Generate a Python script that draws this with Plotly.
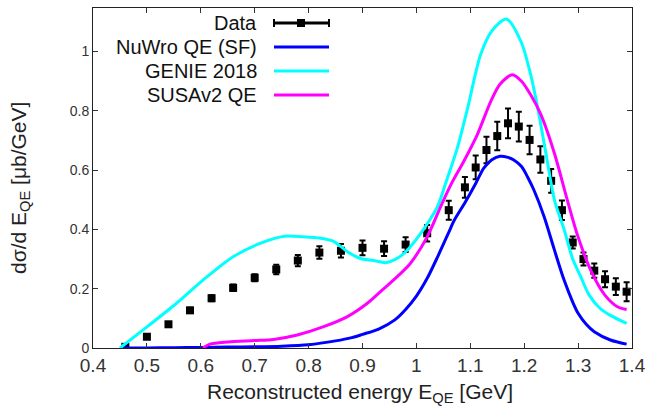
import plotly.graph_objects as go

# ---- Data ----
data_x = [0.46, 0.50, 0.54, 0.58, 0.62, 0.66, 0.70, 0.74, 0.78, 0.82, 0.86, 0.90, 0.94, 0.98,
          1.02, 1.06, 1.09, 1.11, 1.13, 1.15, 1.17, 1.19, 1.21, 1.23, 1.25, 1.27, 1.29, 1.31,
          1.33, 1.35, 1.37, 1.39]
data_y = [0.004, 0.038, 0.080, 0.127, 0.168, 0.203, 0.237, 0.265, 0.295, 0.322, 0.328, 0.338,
          0.335, 0.349, 0.387, 0.465, 0.542, 0.609, 0.668, 0.715, 0.758, 0.747, 0.702, 0.636,
          0.564, 0.465, 0.356, 0.300, 0.261, 0.232, 0.207, 0.190]
data_err = [0.006, 0.008, 0.008, 0.009, 0.010, 0.011, 0.012, 0.016, 0.019, 0.021, 0.023, 0.025,
            0.025, 0.025, 0.028, 0.032, 0.035, 0.040, 0.045, 0.048, 0.050, 0.050, 0.048, 0.045,
            0.040, 0.033, 0.020, 0.022, 0.024, 0.027, 0.028, 0.032]

nuwro_x = [0.45, 0.50, 0.55, 0.60, 0.65, 0.70, 0.75, 0.80, 0.85, 0.88, 0.90, 0.93, 0.96, 0.98,
           1.00, 1.02, 1.04, 1.06, 1.07, 1.09, 1.11, 1.125, 1.14, 1.155, 1.17, 1.18, 1.195,
           1.206, 1.218, 1.237, 1.256, 1.274, 1.29, 1.30, 1.315, 1.33, 1.36, 1.39]
nuwro_y = [0.0, 0.0, 0.001, 0.002, 0.003, 0.004, 0.006, 0.011, 0.024, 0.035, 0.046, 0.064,
           0.095, 0.13, 0.175, 0.235, 0.31, 0.39, 0.43, 0.49, 0.555, 0.607, 0.635, 0.647,
           0.643, 0.635, 0.612, 0.578, 0.533, 0.443, 0.331, 0.229, 0.155, 0.117, 0.08, 0.055,
           0.027, 0.013]

genie_x = [0.45, 0.493, 0.555, 0.604, 0.66, 0.71, 0.755, 0.79, 0.822, 0.847, 0.872, 0.896,
           0.92, 0.943, 0.96, 0.977, 1.008, 1.039, 1.055, 1.076, 1.095, 1.119, 1.14, 1.167,
           1.194, 1.212, 1.225, 1.24, 1.256, 1.274, 1.29, 1.305, 1.32, 1.34, 1.36, 1.39]
genie_y = [0.0, 0.061, 0.151, 0.229, 0.308, 0.353, 0.377, 0.375, 0.370, 0.359, 0.325, 0.302,
           0.295, 0.288, 0.298, 0.319, 0.387, 0.477, 0.56, 0.675, 0.809, 0.989, 1.07, 1.11,
           1.034, 0.922, 0.81, 0.66, 0.50, 0.40, 0.30, 0.24, 0.18, 0.135, 0.11, 0.083]

susa_x = [0.604, 0.617, 0.65, 0.70, 0.735, 0.779, 0.828, 0.872, 0.909, 0.94, 0.971, 0.989,
          1.020, 1.045, 1.064, 1.088, 1.113, 1.138, 1.155, 1.178, 1.195, 1.212, 1.231, 1.256,
          1.28, 1.299, 1.324, 1.349, 1.373, 1.39]
susa_y = [0.0, 0.013, 0.02, 0.025, 0.029, 0.044, 0.072, 0.106, 0.151, 0.201, 0.252, 0.286,
          0.375, 0.477, 0.551, 0.63, 0.72, 0.832, 0.89, 0.922, 0.90, 0.854, 0.787, 0.657,
          0.499, 0.38, 0.26, 0.18, 0.139, 0.13]

x_ticks = [0.4, 0.5, 0.6, 0.7, 0.8, 0.9, 1.0, 1.1, 1.2, 1.3, 1.4]
x_tick_text = ["0.4", "0.5", "0.6", "0.7", "0.8", "0.9", "1", "1.1", "1.2", "1.3", "1.4"]
y_ticks = [0, 0.2, 0.4, 0.6, 0.8, 1.0]
y_tick_text = ["0", "0.2", "0.4", "0.6", "0.8", "1"]

legend_names = ["Data", "NuWro QE (SF)", "GENIE 2018", "SUSAv2 QE"]
colors = ["#000000", "#0000ff", "#00ffff", "#ff00ff"]

FONT = "Liberation Sans, Arial, sans-serif"

fig = go.Figure()
fig.add_trace(go.Scatter(
    x=data_x, y=data_y, mode="markers",
    marker=dict(symbol="square", size=8, color="black"),
    error_y=dict(type="data", array=data_err, color="black", thickness=2, width=3),
    showlegend=False))
for xs, ys, c in [(nuwro_x, nuwro_y, colors[1]), (genie_x, genie_y, colors[2]),
                  (susa_x, susa_y, colors[3])]:
    fig.add_trace(go.Scatter(x=xs, y=ys, mode="lines",
                             line=dict(color=c, width=3, shape="spline", smoothing=0.8),
                             showlegend=False))

# custom legend (gnuplot style: right-aligned text, sample on the right)
L, R, T, B = 93, 632, 8, 348
def px(xp):
    return (xp - L) / (R - L)
def py(yp):
    return (B - yp) / (B - T)

rows = [23, 47, 71, 95]
annotations = []
shapes = []
for name, c, yy in zip(legend_names, colors, rows):
    annotations.append(dict(x=px(259), y=py(yy), xref="paper", yref="paper", text=name,
                            showarrow=False, xanchor="right", yanchor="middle",
                            font=dict(family=FONT, size=20, color="#111")))
    shapes.append(dict(type="line", xref="paper", yref="paper", x0=px(274), x1=px(329),
                       y0=py(yy), y1=py(yy), line=dict(color=c, width=3)))
# data sample: caps + square
shapes.append(dict(type="line", xref="paper", yref="paper", x0=px(274), x1=px(274),
                   y0=py(rows[0] - 4), y1=py(rows[0] + 4), line=dict(color="black", width=2)))
shapes.append(dict(type="line", xref="paper", yref="paper", x0=px(329), x1=px(329),
                   y0=py(rows[0] - 4), y1=py(rows[0] + 4), line=dict(color="black", width=2)))
shapes.append(dict(type="rect", xref="paper", yref="paper", x0=px(297), x1=px(305),
                   y0=py(rows[0] + 4), y1=py(rows[0] - 4), fillcolor="black",
                   line=dict(color="black", width=0)))

# axis titles as annotations for exact placement
annotations.append(dict(x=px(360), y=py(393), xref="paper", yref="paper",
                        text="Reconstructed energy E<sub>QE</sub> [GeV]", showarrow=False,
                        xanchor="center", yanchor="middle",
                        font=dict(family=FONT, size=21, color="#222")))
annotations.append(dict(x=px(20), y=py(188), xref="paper", yref="paper",
                        text="dσ/d E<sub>QE</sub> [μb/GeV]", showarrow=False, textangle=-90,
                        xanchor="center", yanchor="middle",
                        font=dict(family=FONT, size=21, color="#222")))

fig.update_layout(
    width=648, height=407,
    margin=dict(l=L, r=648 - R, t=T, b=407 - B, autoexpand=False),
    paper_bgcolor="white", plot_bgcolor="white",
    font=dict(family=FONT, color="#222"),
    annotations=annotations, shapes=shapes,
    xaxis=dict(range=[0.4, 1.4], tickvals=x_ticks, ticktext=x_tick_text, automargin=False,
               ticks="inside", ticklen=5, tickcolor="#333", showline=True, linecolor="#222",
               linewidth=1, mirror="ticks", showgrid=False, zeroline=False,
               tickfont=dict(size=19, color="#333")),
    yaxis=dict(range=[0, 1.147], tickvals=y_ticks, ticktext=y_tick_text, automargin=False,
               ticks="inside", ticklen=5, tickcolor="#333", showline=True, linecolor="#222",
               linewidth=1, mirror="ticks", showgrid=False, zeroline=False,
               tickfont=dict(size=14, color="#333")),
)
fig.write_html("out.html", config={"displayModeBar": False},
               post_script="document.body.style.margin='0';document.body.style.overflow='hidden';")
